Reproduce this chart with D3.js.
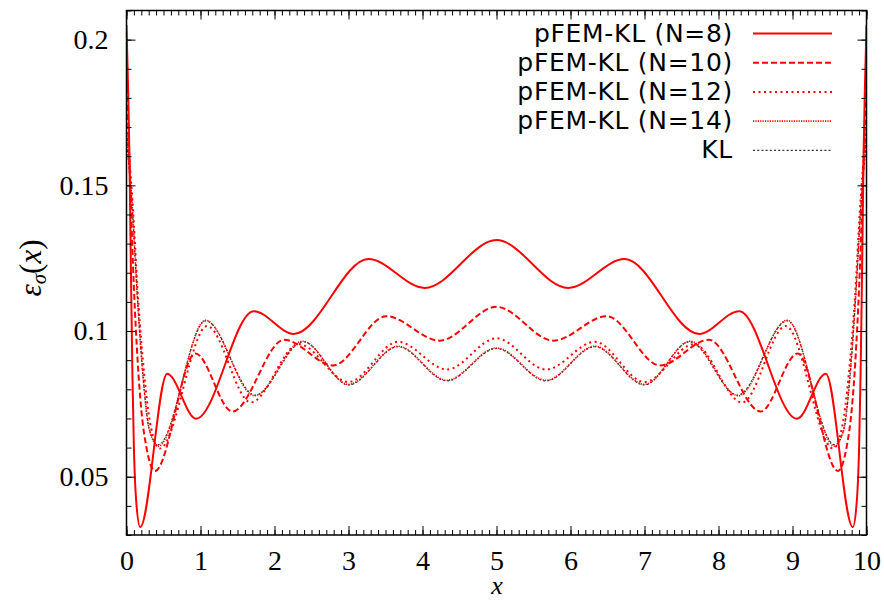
<!DOCTYPE html>
<html>
<head>
<meta charset="utf-8">
<script src="https://cdnjs.cloudflare.com/ajax/libs/d3/7.8.5/d3.min.js"></script>
<style>
  body { margin: 0; background: #fff; }
  svg { display: block; }
</style>
</head>
<body>
<div id="chart"></div>
<script>
// values (extrema + a few shoulder points)
const xN8 = [0, 0.02, 0.04, 0.06, 0.08, 0.1, 0.13, 0.185, 0.55, 0.94, 1.72, 2.26, 3.27, 4.03, 5.0, 5.97, 6.73, 7.74, 8.28, 9.06, 9.45, 9.815, 9.87, 9.9, 9.92, 9.94, 9.96, 9.98, 10];
const yN8 = [0.205, 0.185, 0.16, 0.12, 0.085, 0.06, 0.042, 0.0327, 0.0853, 0.0699, 0.1068, 0.099, 0.1247, 0.1148, 0.1312, 0.1148, 0.1247, 0.099, 0.1068, 0.0699, 0.0853, 0.0327, 0.042, 0.06, 0.085, 0.12, 0.16, 0.185, 0.205];

const xN10 = [0, 0.05, 0.1, 0.15, 0.2, 0.27, 0.385, 0.93, 1.43, 2.13, 2.79, 3.51, 4.23, 5.0, 5.77, 6.49, 7.21, 7.87, 8.57, 9.07, 9.615, 9.73, 9.8, 9.85, 9.9, 9.95, 10];
const yN10 = [0.19, 0.15, 0.115, 0.09, 0.073, 0.06, 0.052, 0.0923, 0.0724, 0.097, 0.0882, 0.1051, 0.0967, 0.1083, 0.0967, 0.1051, 0.0882, 0.097, 0.0724, 0.0923, 0.052, 0.06, 0.073, 0.09, 0.115, 0.15, 0.19];

const xN12 = [0, 0.08, 0.16, 0.24, 0.33, 0.45, 1.09, 1.68, 2.33, 3.0, 3.67, 4.33, 5.0, 5.67, 6.33, 7.0, 7.67, 8.32, 8.91, 9.55, 9.67, 9.76, 9.84, 9.92, 10];
const yN12 = [0.17, 0.145, 0.11, 0.085, 0.067, 0.0597, 0.1017, 0.0755, 0.0955, 0.0825, 0.0963, 0.0868, 0.0975, 0.0868, 0.0963, 0.0825, 0.0955, 0.0755, 0.1017, 0.0597, 0.067, 0.085, 0.11, 0.145, 0.17];

const xN14 = [0, 0.07, 0.15, 0.22, 0.31, 0.43, 1.07, 1.73, 2.38, 3.0, 3.67, 4.33, 5.0, 5.67, 6.33, 7.0, 7.62, 8.27, 8.93, 9.57, 9.69, 9.78, 9.85, 9.93, 10];
const yN14 = [0.168, 0.146, 0.111, 0.086, 0.066, 0.0605, 0.1037, 0.0778, 0.0965, 0.0817, 0.0948, 0.0831, 0.0942, 0.0831, 0.0948, 0.0817, 0.0965, 0.0778, 0.1037, 0.0605, 0.066, 0.086, 0.111, 0.146, 0.168];

const xKL = [0, 0.07, 0.15, 0.22, 0.31, 0.43, 1.07, 1.74, 2.39, 3.0, 3.67, 4.33, 5.0, 5.67, 6.33, 7.0, 7.61, 8.26, 8.93, 9.57, 9.69, 9.78, 9.85, 9.93, 10];
const yKL = [0.165, 0.145, 0.11, 0.085, 0.066, 0.061, 0.1035, 0.078, 0.0963, 0.0815, 0.0946, 0.0829, 0.094, 0.0829, 0.0946, 0.0815, 0.0963, 0.078, 0.1035, 0.061, 0.066, 0.085, 0.11, 0.145, 0.165];

const seriesNames = ["pFEM-KL (N=8)", "pFEM-KL (N=10)", "pFEM-KL (N=12)", "pFEM-KL (N=14)", "KL"];
const xTickValues = [0, 1, 2, 3, 4, 5, 6, 7, 8, 9, 10];
const xTickLabels = ["0", "1", "2", "3", "4", "5", "6", "7", "8", "9", "10"];
const yTickValues = [0.05, 0.1, 0.15, 0.2];
const yTickLabels = ["0.05", "0.1", "0.15", "0.2"];

const W = 884, H = 601;
const margin = { top: 10.5, right: 17.5, bottom: 66, left: 126.5 };
const width = W - margin.left - margin.right;
const height = H - margin.top - margin.bottom;

const svg = d3.select("#chart").append("svg")
  .attr("width", W)
  .attr("height", H);

const g = svg.append("g")
  .attr("transform", "translate(" + margin.left + "," + margin.top + ")");

const x = d3.scaleLinear().domain([0, 10]).range([0, width]);
const y = d3.scaleLinear().domain([0.03, 0.21]).range([height, 0]);

// line styles, gnuplot-like
const styles = [
  { color: "#ff0000", w: 2, dash: null },
  { color: "#ff0000", w: 2, dash: "6,3" },
  { color: "#ff0000", w: 2, dash: "2,3.5" },
  { color: "#ff0000", w: 1.6, dash: "1.2,1.2" },
  { color: "#333333", w: 1.2, dash: "2,2.2" }
];
const xs = [xN8, xN10, xN12, xN14, xKL];
const ys = [yN8, yN10, yN12, yN14, yKL];

// clip
svg.append("defs").append("clipPath").attr("id", "plotclip")
  .append("rect").attr("x", 0).attr("y", 0).attr("width", width).attr("height", height);

const line = d3.line()
  .x(d => x(d[0]))
  .y(d => y(d[1]))
  .curve(d3.curveMonotoneX);

const lines = g.append("g").attr("clip-path", "url(#plotclip)");
// draw KL first so the red ones sit on top, like the original
[4, 3, 2, 1, 0].forEach(i => {
  const pts = xs[i].map((v, k) => [v, ys[i][k]]);
  lines.append("path")
    .datum(pts)
    .attr("d", line)
    .attr("fill", "none")
    .attr("stroke", styles[i].color)
    .attr("stroke-width", styles[i].w)
    .attr("stroke-dasharray", styles[i].dash)
    .attr("stroke-linejoin", "round");
});

// Axes: ticks pointing inward on all four sides
const tickFont = "'Liberation Serif', 'DejaVu Serif', serif";
function minor(sel) {
  sel.select(".domain").remove();
  sel.selectAll("line").attr("stroke", "#000").attr("stroke-width", 1);
}

g.append("g")
  .attr("transform", "translate(0," + height + ")")
  .call(d3.axisBottom(x).tickValues(x.ticks(100)).tickSize(-5).tickFormat(""))
  .call(minor);
g.append("g")
  .call(d3.axisTop(x).tickValues(x.ticks(100)).tickSize(-5).tickFormat(""))
  .call(minor);
g.append("g")
  .call(d3.axisLeft(y).tickValues(y.ticks(18)).tickSize(-5).tickFormat(""))
  .call(minor);
g.append("g")
  .attr("transform", "translate(" + width + ",0)")
  .call(d3.axisRight(y).tickValues(y.ticks(18)).tickSize(-5).tickFormat(""))
  .call(minor);

const xAxis = g.append("g")
  .attr("transform", "translate(0," + height + ")")
  .call(d3.axisBottom(x).tickValues(xTickValues).tickSize(-9).tickPadding(15)
    .tickFormat((d, i) => xTickLabels[i]));
xAxis.select(".domain").remove();
xAxis.selectAll("line").attr("stroke", "#000");
xAxis.selectAll("text").style("font-family", tickFont).style("font-size", "28px").attr("fill", "#000");

g.append("g")
  .call(d3.axisTop(x).tickValues(xTickValues).tickSize(-9).tickFormat(""))
  .call(minor);

const yAxis = g.append("g")
  .call(d3.axisLeft(y).tickValues(yTickValues).tickSize(-9).tickPadding(18)
    .tickFormat((d, i) => yTickLabels[i]));
yAxis.select(".domain").remove();
yAxis.selectAll("line").attr("stroke", "#000");
yAxis.selectAll("text").style("font-family", tickFont).style("font-size", "28px").attr("fill", "#000");

g.append("g")
  .attr("transform", "translate(" + width + ",0)")
  .call(d3.axisRight(y).tickValues(yTickValues).tickSize(-9).tickFormat(""))
  .call(minor);

// frame
g.append("rect")
  .attr("width", width)
  .attr("height", height)
  .attr("fill", "none")
  .attr("stroke", "#000")
  .attr("stroke-width", 1.5);

// axis titles
svg.append("text")
  .attr("x", 497)
  .attr("y", 594)
  .attr("text-anchor", "middle")
  .style("font-family", tickFont)
  .style("font-style", "italic")
  .style("font-size", "26px")
  .text("x");

const yt = svg.append("text")
  .attr("transform", "translate(41,268) rotate(-90)")
  .attr("text-anchor", "middle")
  .style("font-family", tickFont)
  .style("font-size", "31px");
yt.append("tspan").style("font-style", "italic").text("ε");
yt.append("tspan").style("font-style", "italic").style("font-size", "21px").attr("dy", 5).text("σ");
yt.append("tspan").attr("dy", -5).text("(");
yt.append("tspan").style("font-style", "italic").text("x");
yt.append("tspan").text(")");

// legend
const legend = svg.append("g");
seriesNames.forEach((name, i) => {
  const ly = 33.5 + i * 29.2;
  legend.append("text")
    .attr("x", 733)
    .attr("y", ly + 8)
    .attr("text-anchor", "end")
    .style("font-family", "'DejaVu Sans', sans-serif")
    .style("font-size", "25px")
    .style("letter-spacing", "0.7px")
    .text(name);
  legend.append("line")
    .attr("x1", 753).attr("x2", 832)
    .attr("y1", ly).attr("y2", ly)
    .attr("stroke", styles[i].color)
    .attr("stroke-width", styles[i].w)
    .attr("stroke-dasharray", styles[i].dash);
});
</script>
</body>
</html>
